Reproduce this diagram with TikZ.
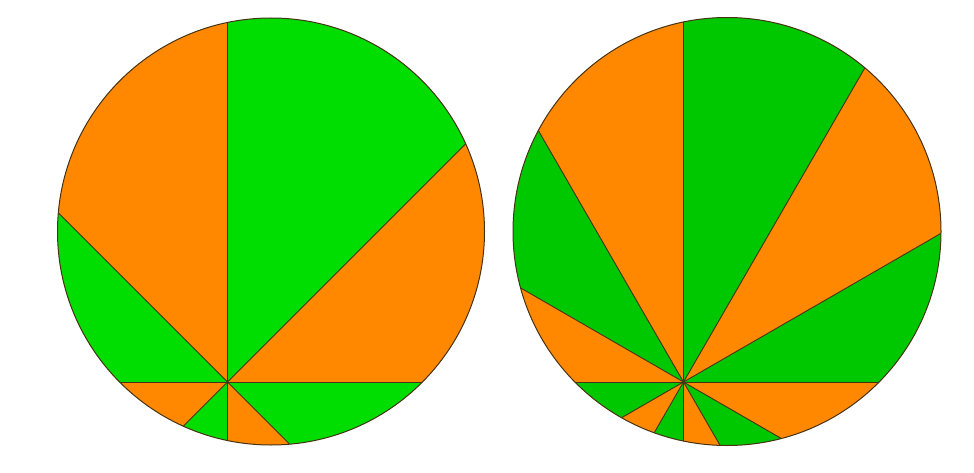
\documentclass[tikz,border=0pt]{standalone}
\definecolor{sliceorange}{RGB}{255,136,0}
\definecolor{slicegreen}{RGB}{0,221,0}
\definecolor{slicedkgreen}{RGB}{0,200,0}
\definecolor{cutline}{RGB}{70,50,20}
\begin{document}
\begin{tikzpicture}[x=1pt,y=1pt,
    cut/.style={line width=0.9pt,draw=cutline},
    rim/.style={line width=1pt,draw=cutline}]
  \useasboundingbox (0,0) rectangle (974,472);
  % left disc, eight slices of 45 degrees
  \coordinate (cl) at (271,240.5);
  \coordinate (pl) at (227.5,90);
  \begin{scope}
    \clip (cl) circle (213.5);
    \foreach \a [count=\i] in {0,45,...,315} {
      \ifodd\i \def\col{sliceorange}\else \def\col{slicegreen}\fi
      \fill[\col] (pl) -- +(\a:600) -- +(\a+45:600) -- cycle;
    }
    \foreach \a in {0,45,90,135}
      \draw[cut] (pl) +(\a:600) -- +(\a+180:600);
  \end{scope}
  \draw[rim] (cl) circle (213.5);
  % right disc, twelve slices of 30 degrees
  \coordinate (cr) at (727,240.5);
  \coordinate (pr) at (683.5,90);
  \begin{scope}
    \clip (cr) circle (214);
    \foreach \a [count=\i] in {0,30,...,330} {
      \ifodd\i \def\col{slicedkgreen}\else \def\col{sliceorange}\fi
      \fill[\col] (pr) -- +(\a:600) -- +(\a+30:600) -- cycle;
    }
    \foreach \a in {0,30,...,150}
      \draw[cut] (pr) +(\a:600) -- +(\a+180:600);
  \end{scope}
  \draw[rim] (cr) circle (214);
\end{tikzpicture}
\end{document}
